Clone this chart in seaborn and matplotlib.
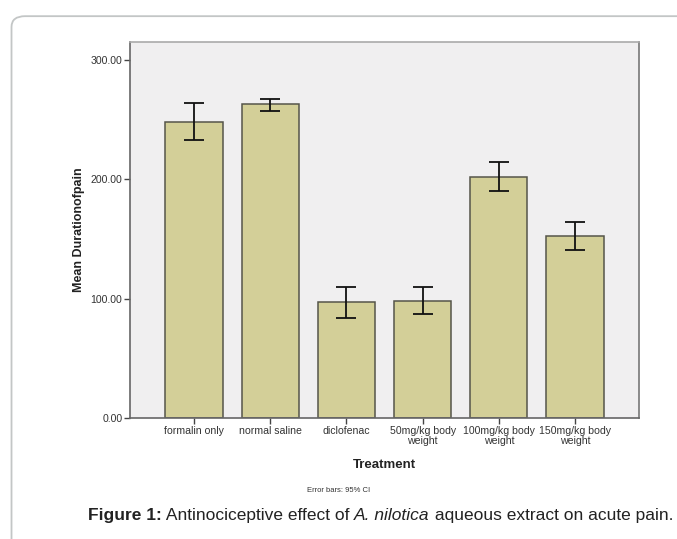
import numpy as np
import matplotlib
matplotlib.use("Agg")
import matplotlib.pyplot as plt
import seaborn as sns
from matplotlib.patches import FancyBboxPatch

# values
treatments = ["formalin only", "normal saline", "diclofenac",
              "50mg/kg body\nweight", "100mg/kg body\nweight", "150mg/kg body\nweight"]
mean_duration = [248.4, 263.2, 97.0, 98.1, 202.3, 152.3]
ci_low = [233.3, 257.6, 84.1, 87.2, 190.0, 141.1]
ci_high = [263.8, 267.4, 110.1, 109.5, 214.3, 164.0]
y_ticks = [0, 100, 200, 300]

sns.set_style("white")
plt.rcParams["font.family"] = ["Liberation Sans", "DejaVu Sans"]

fig = plt.figure(figsize=(6.77, 5.39), dpi=100)
ax = fig.add_axes([0.192, 0.2245, 0.752, 0.6975])

# rounded frame around the figure
frame = FancyBboxPatch((0.017, -0.05), 1.05, 1.02, transform=fig.transFigure,
                       boxstyle="round,pad=0,rounding_size=0.02",
                       facecolor="none", edgecolor="#c3c6c6", linewidth=1.3)
fig.patches.append(frame)

ax.set_facecolor("#f0eff0")
sns.barplot(x=treatments, y=mean_duration, color="#d3cf98", saturation=1,
            edgecolor="#55554a", linewidth=1.1, width=0.75, ax=ax)

means = np.array(mean_duration)
yerr = [means - np.array(ci_low), np.array(ci_high) - means]
ax.errorbar(np.arange(len(treatments)), means, yerr=yerr, fmt="none",
            ecolor="#111111", elinewidth=1.3, capsize=7, capthick=1.3)

ax.set_xlim(-0.84, 5.84)
ax.set_ylim(0, 315.2)
ax.set_yticks(y_ticks)
ax.set_yticklabels([f"{v:.2f}" for v in y_ticks])
ax.tick_params(axis="both", direction="out", length=4, width=1, color="#444444",
               labelsize=7.6, labelcolor="#333333", pad=1.5, bottom=True, left=True)
for lbl in ax.get_xticklabels():
    lbl.set_linespacing(1.05)

for side in ["left", "bottom", "right", "top"]:
    ax.spines[side].set_visible(True)
    ax.spines[side].set_linewidth(1.2)
ax.spines["left"].set_color("#666666")
ax.spines["bottom"].set_color("#666666")
ax.spines["right"].set_color("#777777")
ax.spines["top"].set_color("#aaaaaa")

ax.set_xlabel("Treatment", fontsize=9.5, fontweight="bold", color="#222222", labelpad=9)
ax.set_ylabel("Mean Durationofpain", fontsize=9, fontweight="bold", color="#222222", labelpad=4)

fig.text(0.5, 0.09, "Error bars: 95% CI", fontsize=5.5, ha="center", va="center", color="#333333")

# caption made of bold / normal / italic pieces
pieces = [("Figure 1:", "bold", "normal"),
          (" Antinociceptive effect of ", "normal", "normal"),
          ("A. nilotica", "normal", "italic"),
          (" aqueous extract on acute pain.", "normal", "normal")]
renderer = fig.canvas.get_renderer()
fs = 11.0
x0_px, x1_px = 88, 672
texts = []
for s, w, st in pieces:
    texts.append(fig.text(0, 0.044, s, fontsize=fs, fontweight=w, fontstyle=st,
                          ha="left", va="center", color="#222222"))
total = sum(t.get_window_extent(renderer).width for t in texts)
fs = fs * (x1_px - x0_px) / total
x = x0_px
for t in texts:
    t.set_fontsize(fs)
    t.set_x(x / fig.bbox.width)
    x += t.get_window_extent(renderer).width

fig.savefig("out.png", dpi=100)
